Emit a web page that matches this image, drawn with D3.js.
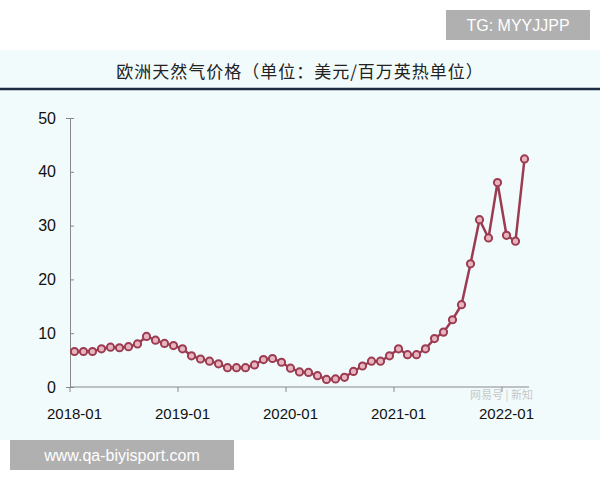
<!DOCTYPE html><html><head><meta charset="utf-8"><script src="https://cdn.jsdelivr.net/npm/d3@7"></script>
<style>body{margin:0;background:#fff}svg{display:block}</style></head><body><svg id="c" width="600" height="480"></svg>
<script>
const startMonth = "2018-01";
const prices = [6.6,6.6,6.6,7.1,7.4,7.3,7.5,8.0,9.4,8.7,8.1,7.7,7.1,5.8,5.2,4.8,4.3,3.6,3.6,3.6,4.1,5.1,5.3,4.6,3.5,2.8,2.7,2.1,1.4,1.5,1.8,2.9,3.9,4.8,4.8,5.8,7.1,6.0,6.0,7.1,9.0,10.2,12.5,15.3,22.9,31.1,27.7,38.0,28.2,27.1,42.4];
const yTicks = [0,10,20,30,40,50];
const xLabels = ["2018-01","2019-01","2020-01","2021-01","2022-01"];
const title = "欧洲天然气价格（单位：美元/百万英热单位）";

const months = prices.map((_,i)=>{const y=2018+Math.floor(i/12),m=i%12+1;return y+"-"+String(m).padStart(2,"0");});
const svg = d3.select("#c");
const font = "'Noto Sans CJK SC','DejaVu Sans',sans-serif";
svg.append("rect").attr("x",0).attr("y",50).attr("width",600).attr("height",390).attr("fill","#f2fbfb");
svg.append("text").attr("x",300).attr("y",78).attr("text-anchor","middle").attr("font-family",font).attr("font-size",17).attr("fill","#222").attr("letter-spacing",1).text(title);
svg.append("line").attr("x1",0).attr("x2",600).attr("y1",89).attr("y2",89).attr("stroke","#1d2a44").attr("stroke-width",2.5);

const x = d3.scaleBand().domain(months).range([70,529]);
const y = d3.scaleLinear().domain([0,50]).range([387,118]);
const g = svg.append("g");
g.append("g").attr("transform","translate(70,0)").call(d3.axisLeft(y).tickValues(yTicks).tickSize(4).tickPadding(10))
 .call(a=>{a.selectAll("text").attr("font-size",16).attr("font-family","'Liberation Sans',Arial,sans-serif").attr("fill","#111");a.select(".domain").attr("stroke","#888");a.selectAll("line").attr("stroke","#888");a.selectAll(".tick line").attr("x2",4).attr("x1",0);});
g.append("line").attr("x1",70).attr("x2",529).attr("y1",387).attr("y2",387).attr("stroke","#888");
xLabels.forEach(l=>{
  const bx = x(l);
  g.append("line").attr("x1",bx).attr("x2",bx).attr("y1",387).attr("y2",392).attr("stroke","#888");
  g.append("text").attr("x",bx+x.bandwidth()/2).attr("y",419).attr("text-anchor","middle").attr("font-size",15).attr("font-family","'Liberation Sans',Arial,sans-serif").attr("fill","#111").text(l);
});
const cx = d=>x(d)+x.bandwidth()/2;
g.append("path").datum(prices).attr("fill","none").attr("stroke","#9b3c52").attr("stroke-width",2.5)
 .attr("d",d3.line().x((d,i)=>cx(months[i])).y(d=>y(d)));
g.selectAll("circle").data(prices).join("circle").attr("cx",(d,i)=>cx(months[i])).attr("cy",d=>y(d)).attr("r",3.6)
 .attr("fill","#e8b4bd").attr("stroke","#9b3c52").attr("stroke-width",2);

svg.append("text").attr("x",470).attr("y",399).attr("font-family",font).attr("font-size",11).attr("fill","#bbb").attr("opacity",0.8).text("网易号 | 新知");
svg.append("rect").attr("x",446).attr("y",10).attr("width",144).attr("height",30).attr("fill","#b0b0b0");
svg.append("text").attr("x",518).attr("y",31).attr("text-anchor","middle").attr("font-family","'Liberation Sans',Arial,sans-serif").attr("font-size",16).attr("fill","#fff").text("TG: MYYJJPP");
svg.append("rect").attr("x",10).attr("y",440).attr("width",224).attr("height",30).attr("fill","#b0b0b0");
svg.append("text").attr("x",122).attr("y",461).attr("text-anchor","middle").attr("font-family","'Liberation Sans',Arial,sans-serif").attr("font-size",16).attr("fill","#fff").text("www.qa-biyisport.com");
</script></body></html>
